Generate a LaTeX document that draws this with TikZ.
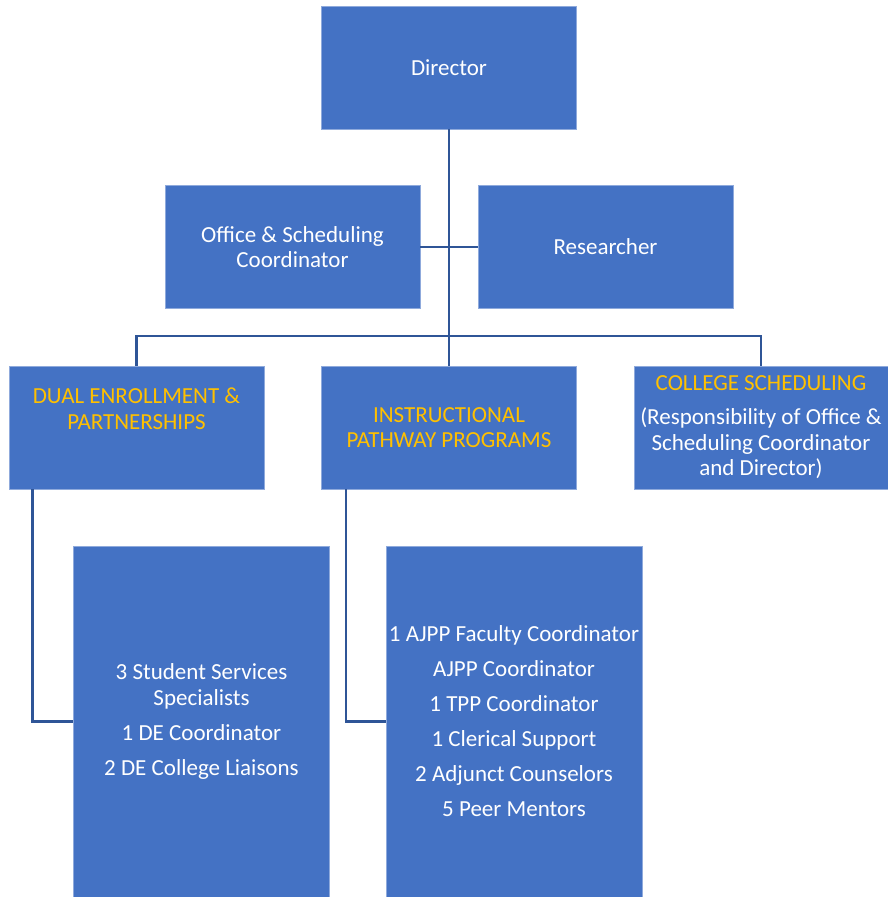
\documentclass[tikz,border=0pt]{standalone}
\usepackage{fontspec}
\setmainfont{Carlito}
\usepackage{tikz}

\definecolor{boxblue}{HTML}{4472C4}
\definecolor{lineblue}{HTML}{2F5597}
\definecolor{gold}{HTML}{FFC000}

\tikzset{
  box/.style={rectangle,fill=boxblue,draw=boxblue!60!white,line width=0.8pt,
    text=white,align=center,minimum width=255pt,minimum height=123pt,
    inner sep=0pt,font=\fontsize{23}{25.5}\selectfont},
  tallbox/.style={box,minimum width=256pt,minimum height=351pt},
  boxtext/.style={align=center,inner sep=0pt,font=\fontsize{23}{25.5}\selectfont},
  link/.style={draw=lineblue,line width=2.6pt}
}

\begin{document}
\begin{tikzpicture}[x=1pt,y=-1pt]
            \useasboundingbox (0,0) rectangle (888,897);
            \node[box] at (449,67.5) (director) {Director};
            \node[box] at (292.5,247) (office) {Office \& Scheduling\\Coordinator};
            \node[box] at (605.5,247) (research) {Researcher};
            \node[box] at (136.5,427.5) (dual) {};
            \node[boxtext] at (136.5,408.5) (dualtxt) {\textcolor{gold}{DUAL ENROLLMENT \&}\\\textcolor{gold}{PARTNERSHIPS}};
            \node[box] at (449,427.5) (instr) {\textcolor{gold}{INSTRUCTIONAL}\\\textcolor{gold}{PATHWAY PROGRAMS}};
            \node[box,minimum width=254pt] at (761,427.5) (sched) {\textcolor{gold}{COLLEGE SCHEDULING}\\[8.5pt](Responsibility of Office \&\\Scheduling Coordinator\\and Director)};
            \node[tallbox] at (201.5,721.5) (destaff) {3 Student Services\\Specialists\\[9.5pt]1 DE Coordinator\\[9.5pt]2 DE College Liaisons};
            \node[tallbox] at (514,721.5) (ipstaff) {1 AJPP Faculty Coordinator\\[9.5pt]AJPP Coordinator\\[9.5pt]1 TPP Coordinator\\[9.5pt]1 Clerical Support\\[9.5pt]2 Adjunct Counselors\\[9.5pt]5 Peer Mentors};
            \coordinate (bus) at (449,336);
            \draw[link] (director.south) -- (instr.north);
            \draw[link] (office.east) -- (research.west);
            \draw[link] (dual.north) |- (bus) -| (sched.north);
            \draw[link] ([xshift=24pt]dual.south west) |- (destaff.west);
            \draw[link] ([xshift=25pt]instr.south west) |- (ipstaff.west);
        \end{tikzpicture}
\end{document}
